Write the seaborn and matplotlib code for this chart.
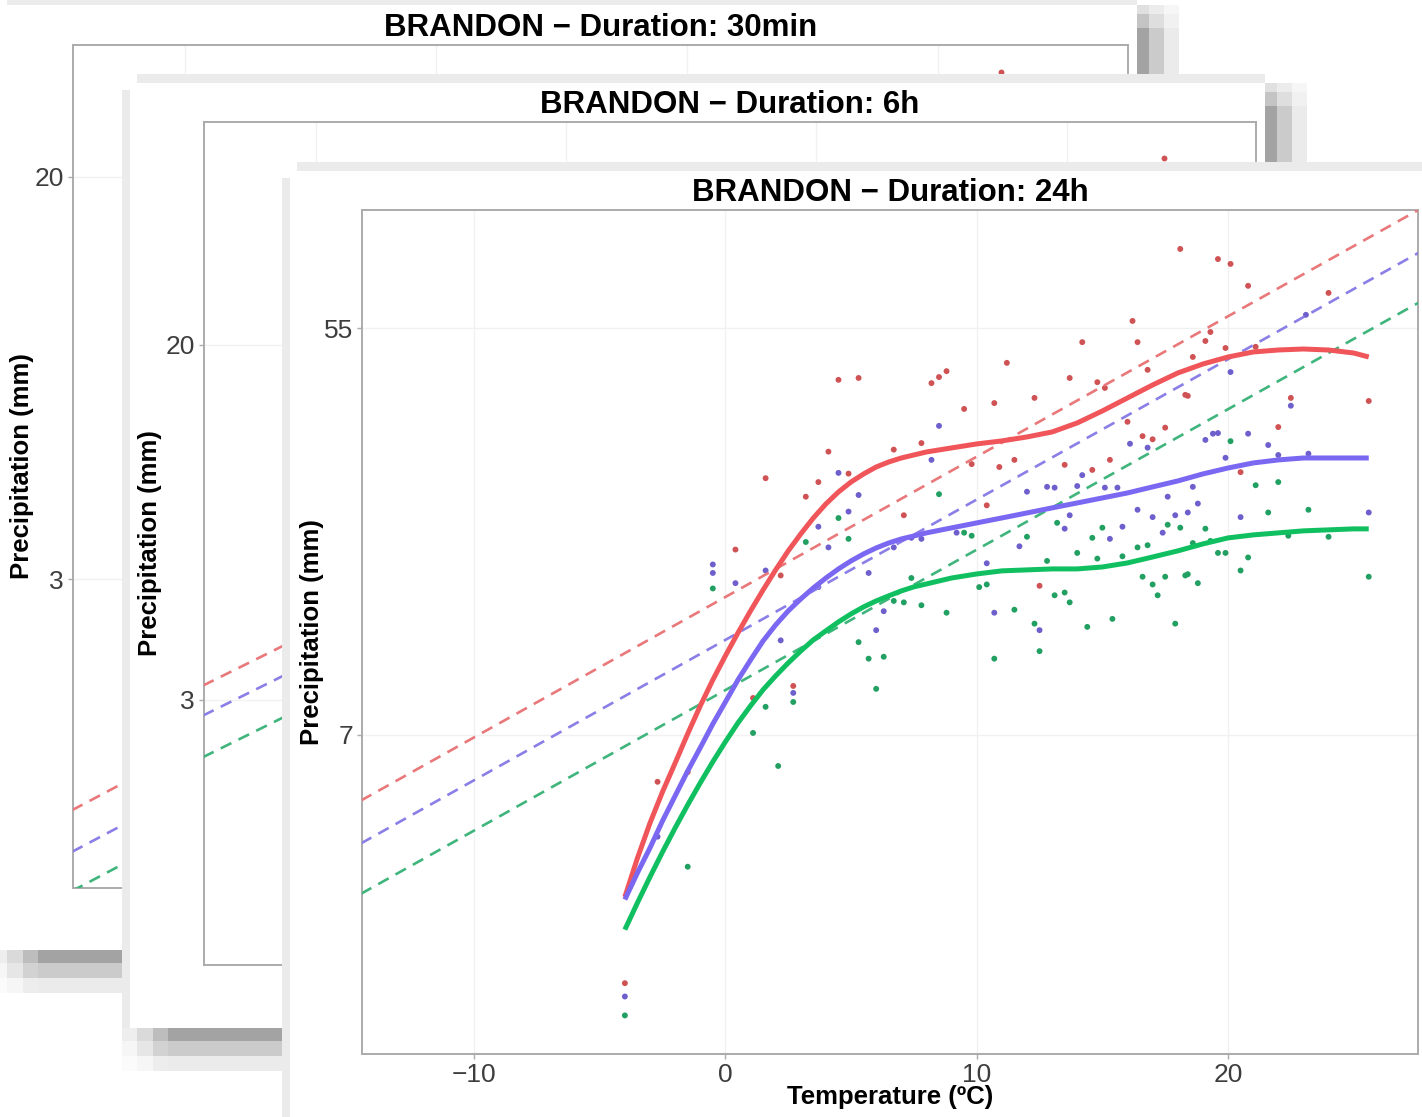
import matplotlib
matplotlib.use("Agg")
import matplotlib.pyplot as plt
from matplotlib.patches import Rectangle
from matplotlib.ticker import NullLocator
import pandas as pd
import seaborn as sns

# ---------------------------------------------------------------- data
station = "BRANDON"
durations = ["30min", "6h", "24h"]
levels = ["upper", "middle", "lower"]

temp_limits = (-14.46, 27.56)
temp_ticks = [-10, 0, 10, 20]
cc_temp = [-14.5, 27.6]          # end points of the scaling reference lines

# 30 min card (mostly covered)
ylim_30min = (0.70, 37.2)
yticks_30min = [3, 20]
cc_30min_upper = [1.01, 14.1]
cc_30min_middle = [0.83, 11.6]
cc_30min_lower = [0.69, 9.6]
pts_30min_T = [22.5]
pts_30min_P = [32.8]

# 6 h card (mostly covered)
ylim_6h = (0.728, 65.8)
yticks_6h = [3, 20]
cc_6h_upper = [3.24, 52.9]
cc_6h_middle = [2.76, 45.0]
cc_6h_lower = [2.21, 36.0]
pts_6h_T = [18.2, 23.9]
pts_6h_P = [52.0, 54.3]

# 24 h card
ylim_24h = (1.39, 100.0)
yticks_24h = [7, 55]
cc_24h_upper = [5.02, 100.2]
cc_24h_middle = [4.04, 80.6]
cc_24h_lower = [3.13, 62.6]

smooth_T = [-4, -3.5, -3, -2.5, -2, -1.5, -1, -0.5, 0, 0.5, 1, 1.5, 2, 2.5, 3, 3.5, 4,
            4.5, 5, 5.5, 6, 6.5, 7, 7.5, 8, 9, 10, 11, 12, 13, 14, 15, 16, 17, 18, 19,
            20, 21, 22, 23, 24, 25, 25.6]
smooth_upper = [3.08, 3.75, 4.48, 5.25, 6.07, 7.04, 8.11, 9.25, 10.45, 11.74, 13.12,
                14.59, 16.15, 17.78, 19.38, 21.01, 22.56, 23.97, 25.21, 26.26, 27.20,
                27.90, 28.47, 28.91, 29.35, 29.96, 30.57, 31.04, 31.67, 32.48, 34.00,
                36.13, 38.59, 41.21, 43.79, 45.83, 47.49, 48.71, 49.20, 49.45, 49.20,
                48.46, 47.49]
smooth_middle = [3.04, 3.48, 3.95, 4.53, 5.14, 5.83, 6.56, 7.40, 8.27, 9.25, 10.23,
                 11.27, 12.22, 13.12, 13.94, 14.74, 15.50, 16.23, 16.90, 17.51, 18.05,
                 18.51, 18.89, 19.18, 19.48, 19.98, 20.49, 21.01, 21.55, 22.11, 22.67,
                 23.25, 23.85, 24.59, 25.34, 26.26, 27.06, 27.76, 28.19, 28.47, 28.47,
                 28.47, 28.47]
smooth_lower = [2.61, 2.99, 3.41, 3.87, 4.37, 4.91, 5.49, 6.11, 6.76, 7.44, 8.11, 8.80,
                9.44, 10.08, 10.71, 11.33, 11.86, 12.41, 12.92, 13.39, 13.80, 14.16,
                14.52, 14.82, 15.04, 15.50, 15.82, 16.07, 16.15, 16.23, 16.23, 16.39,
                16.73, 17.24, 17.78, 18.42, 18.99, 19.28, 19.48, 19.68, 19.78, 19.88,
                19.88]

upper_T = [-4.0, -2.7, -1.5, 1.1, 2.7, 4.5, 5.3, 4.1, 6.7, 1.6, 3.7, 4.9, 3.2, 0.4, 2.2,
           14.2, 16.4, 11.2, 8.8, 8.5, 8.2, 13.7, 16.8, 14.8, 15.1, 12.3, 10.7, 9.5, 18.3,
           16.0, 7.8, 17.5, 16.6, 17.0, 15.3, 11.5, 9.8, 13.5, 14.6, 10.9, 10.4, 7.1, 12.5,
           16.2, 18.1, 19.6, 20.1, 20.8, 24.0, 19.3, 19.1, 19.9, 21.1, 18.6, 18.4, 22.5,
           25.6, 22.0, 20.5]
upper_P = [1.99, 5.52, 5.80, 8.44, 8.97, 42.3, 42.7, 29.4, 29.7, 25.7, 25.2, 26.3, 23.4,
           17.9, 15.7, 51.2, 51.2, 46.1, 44.2, 42.9, 41.6, 42.7, 44.5, 41.8, 40.6, 38.6,
           37.6, 36.5, 39.2, 34.2, 30.7, 33.2, 31.8, 31.3, 28.2, 28.2, 27.6, 27.5, 26.8,
           27.2, 22.4, 21.3, 14.9, 57.0, 82.1, 78.0, 76.1, 68.1, 65.7, 53.9, 51.5, 49.7,
           50.0, 47.5, 39.0, 38.6, 38.0, 33.3, 26.5]

middle_T = [-4.0, -2.7, 2.7, 4.5, 5.3, 4.9, 3.7, 4.1, -0.5, -0.5, 0.4, 1.6, 5.7, 3.7, 6.7,
            2.2, 6.3, 6.0, 8.5, 16.1, 16.8, 8.2, 14.2, 12.8, 13.1, 14.0, 15.1, 15.6, 12.0,
            17.6, 16.4, 13.7, 17.9, 18.4, 17.0, 13.5, 15.8, 17.4, 9.2, 7.4, 7.8, 15.3,
            11.7, 10.4, 10.7, 12.5, 23.1, 20.1, 22.5, 19.1, 19.4, 19.6, 20.8, 21.6, 19.9,
            22.0, 23.2, 18.6, 18.8, 20.5, 25.6]
middle_P = [1.86, 4.18, 8.66, 26.4, 23.6, 21.7, 20.1, 18.1, 16.6, 15.9, 15.1, 16.1, 15.9,
            14.8, 18.1, 11.3, 13.1, 11.9, 33.5, 30.6, 30.0, 28.2, 26.1, 24.6, 24.5, 24.7,
            24.5, 24.5, 24.0, 23.4, 21.9, 21.3, 21.3, 21.6, 21.1, 19.9, 20.1, 19.5, 19.5,
            19.0, 18.9, 18.9, 18.2, 16.7, 13.0, 11.9, 58.8, 44.0, 37.1, 31.2, 32.2, 32.3,
            32.2, 30.4, 28.5, 28.9, 29.1, 24.6, 22.6, 21.1, 21.6]

lower_T = [-4.0, -1.5, 1.1, 1.6, 2.1, 2.7, 6.0, 4.5, 3.2, 4.9, -0.5, 5.3, 5.7, 6.3, 6.7,
           8.5, 13.2, 15.0, 17.6, 18.1, 9.5, 9.8, 12.0, 14.6, 16.4, 16.8, 14.0, 14.8, 15.8,
           12.8, 16.6, 17.0, 17.5, 17.2, 18.3, 10.1, 10.4, 13.1, 13.5, 13.7, 7.4, 7.1, 7.8,
           8.8, 11.5, 12.3, 14.4, 15.4, 17.9, 12.5, 10.7, 20.1, 21.1, 22.0, 21.6, 23.2,
           19.1, 18.6, 19.3, 22.4, 24.0, 19.6, 19.9, 20.8, 20.5, 18.4, 18.8, 25.6]
lower_P = [1.69, 3.59, 7.07, 8.07, 5.98, 8.27, 8.84, 21.0, 18.6, 18.9, 14.7, 11.2, 10.3,
           10.4, 13.8, 23.7, 20.5, 20.0, 20.3, 20.0, 19.5, 19.2, 19.1, 19.0, 18.1, 18.3,
           17.6, 17.1, 17.3, 16.9, 15.6, 15.0, 15.6, 14.2, 15.7, 14.8, 15.0, 14.2, 14.4,
           13.7, 15.5, 13.7, 13.5, 13.0, 13.2, 12.3, 12.1, 12.6, 12.3, 10.7, 10.3, 31.0,
           24.8, 25.2, 21.6, 21.9, 19.9, 18.5, 18.7, 19.2, 19.1, 17.6, 17.6, 17.2, 16.1,
           15.8, 15.1, 15.6]

# ---------------------------------------------------------------- styling
line_colors = {"upper": "#f0555a", "middle": "#7b68f2", "lower": "#10c060"}
dash_colors = {"upper": "#e9787a", "middle": "#8a7fe6", "lower": "#3fb57c"}
point_colors = {"upper": "#cf5254", "middle": "#6e60cc", "lower": "#22a062"}

sns.set_theme(style="white")
plt.rcParams["font.family"] = ["Liberation Sans", "DejaVu Sans"]

W, H = 1422, 1117
fig = plt.figure(figsize=(W / 100, H / 100), dpi=100, facecolor="white")


def add_rect(x0, y0, x1, y1, color, z):
    fig.add_artist(Rectangle((x0 / W, 1 - y1 / H), (x1 - x0) / W, (y1 - y0) / H,
                             transform=fig.transFigure, facecolor=color,
                             edgecolor="none", zorder=z))


def draw_card(box, z):
    x0, y0, x1, y1 = box
    # drop shadow on the right
    cols = [x1, x1 + 12, x1 + 27, x1 + 42]
    rows = [(y0, y0 + 9, ["#e0e0e0", "#ececec", "#f6f6f6"]),
            (y0 + 9, y0 + 23, ["#c4c4c4", "#dedede", "#f1f1f1"]),
            (y0 + 23, y1, ["#a3a3a3", "#cbcbcb", "#ebebeb"])]
    for ya, yb, shades in rows:
        for i, c in enumerate(shades):
            add_rect(cols[i], ya, cols[i + 1], yb, c, z)
    # drop shadow below
    xs = [x0 - 8, x0 + 7, x0 + 23, x0 + 38, x1 + 42]
    bands = [(y1, y1 + 13, ["#eeeeee", "#dadada", "#bdbdbd", "#a3a3a3"]),
             (y1 + 13, y1 + 28, ["#f6f6f6", "#e6e6e6", "#d2d2d2", "#cbcbcb"]),
             (y1 + 28, y1 + 43, ["#fbfbfb", "#f6f6f6", "#ededed", "#ebebeb"])]
    for ya, yb, shades in bands:
        for i, c in enumerate(shades):
            add_rect(xs[i], ya, xs[i + 1], yb, c, z)
    # light halo on the top and left edges, then the card face
    add_rect(x0 + 7, y0 - 9, x1, y0, "#ebebeb", z)
    add_rect(x0 - 8, y0 + 7, x0, y1, "#ebebeb", z)
    add_rect(x0, y0, x1, y1, "white", z + 0.01)


def make_panel(panel, z):
    x0, y0, x1, y1 = panel
    ax = fig.add_axes([x0 / W, 1 - y1 / H, (x1 - x0) / W, (y1 - y0) / H])
    ax.set_zorder(z)
    ax.set_facecolor("white")
    ax.set_yscale("log")
    return ax


def finish_panel(ax, panel, duration, ylim, yticks, label_dx):
    x0, y0, x1, y1 = panel
    pw, ph = x1 - x0, y1 - y0
    ax.set_xlim(*temp_limits)
    ax.set_ylim(*ylim)
    ax.set_xticks(temp_ticks)
    ax.set_xticklabels([str(t).replace("-", "\u2212") for t in temp_ticks])
    ax.set_yticks(yticks)
    ax.set_yticklabels([str(t) for t in yticks])
    ax.yaxis.set_minor_locator(NullLocator())
    ax.xaxis.set_minor_locator(NullLocator())
    ax.grid(True, which="major", color="#f1f1f1", linewidth=1.0)
    ax.set_axisbelow(True)
    for s in ax.spines.values():
        s.set_color("#ababab")
        s.set_linewidth(1.4)
    ax.tick_params(axis="both", which="major", direction="out", length=3.5,
                   width=1.0, color="#ababab", labelsize=19, labelcolor="#3d3d3d",
                   pad=3, bottom=True, left=True)
    ax.set_xlabel("")
    ax.set_ylabel("")
    ax.text(0.5, 1 + 9 / ph, f"{station} \u2212 Duration: {duration}",
            transform=ax.transAxes, ha="center", va="baseline",
            fontsize=22.5, fontweight="bold", color="black")
    ax.text(label_dx / pw, 0.5, "Precipitation (mm)", transform=ax.transAxes,
            rotation=90, ha="center", va="center", fontsize=18.5,
            fontweight="bold", color="black")


def draw_cc(ax, upper, middle, lower):
    df = pd.DataFrame({
        "T": cc_temp * 3,
        "P": upper + middle + lower,
        "level": [lv for lv in levels for _ in cc_temp],
    })
    n0 = len(ax.lines)
    sns.lineplot(data=df, x="T", y="P", hue="level", hue_order=levels,
                 palette=dash_colors, estimator=None, sort=False,
                 linewidth=1.9, legend=False, ax=ax)
    for ln in ax.lines[n0:]:
        ln.set_dashes((4.5, 3.0))
        ln.set_zorder(3)


# ---------------------------------------------------------------- 30 min card
panel1 = (73, 45, 1128, 888)
draw_card((0, 5, 1137, 950), 1)
ax1 = make_panel(panel1, 2)
draw_cc(ax1, cc_30min_upper, cc_30min_middle, cc_30min_lower)
sns.scatterplot(x=pts_30min_T, y=pts_30min_P, color=point_colors["upper"], s=18,
                linewidth=0, ax=ax1, legend=False, zorder=2)
finish_panel(ax1, panel1, durations[0], ylim_30min, yticks_30min, -51)

# ---------------------------------------------------------------- 6 h card
panel2 = (204, 122, 1256, 965)
draw_card((130, 83, 1265, 1028), 3)
ax2 = make_panel(panel2, 4)
draw_cc(ax2, cc_6h_upper, cc_6h_middle, cc_6h_lower)
sns.scatterplot(x=pts_6h_T, y=pts_6h_P, color=point_colors["upper"], s=18,
                linewidth=0, ax=ax2, legend=False, zorder=2)
finish_panel(ax2, panel2, durations[1], ylim_6h, yticks_6h, -54)

# ---------------------------------------------------------------- 24 h card
panel3 = (362, 210, 1418, 1054)
draw_card((290, 171, 1422, 1140), 5)
ax3 = make_panel(panel3, 6)

points = pd.DataFrame({
    "T": upper_T + middle_T + lower_T,
    "P": upper_P + middle_P + lower_P,
    "level": ["upper"] * len(upper_T) + ["middle"] * len(middle_T) + ["lower"] * len(lower_T),
})
sns.scatterplot(data=points, x="T", y="P", hue="level", hue_order=levels,
                palette=point_colors, s=18, linewidth=0, legend=False, ax=ax3, zorder=2)

draw_cc(ax3, cc_24h_upper, cc_24h_middle, cc_24h_lower)

smooth = pd.DataFrame({
    "T": smooth_T * 3,
    "P": smooth_upper + smooth_middle + smooth_lower,
    "level": [lv for lv in levels for _ in smooth_T],
})
n_before = len(ax3.lines)
sns.lineplot(data=smooth, x="T", y="P", hue="level", hue_order=levels,
             palette=line_colors, estimator=None, sort=False, linewidth=3.6,
             legend=False, ax=ax3)
for ln in ax3.lines[n_before:]:
    ln.set_zorder(4)
    ln.set_solid_joinstyle("round")
    ln.set_solid_capstyle("butt")

finish_panel(ax3, panel3, durations[2], ylim_24h, yticks_24h, -50)
ax3.text(0.5, -(1097 - 1054) / 844, "Temperature (\u00baC)", transform=ax3.transAxes,
         ha="center", va="center", fontsize=18.5, fontweight="bold", color="black")

fig.savefig("out.png", dpi=100, facecolor="white")
